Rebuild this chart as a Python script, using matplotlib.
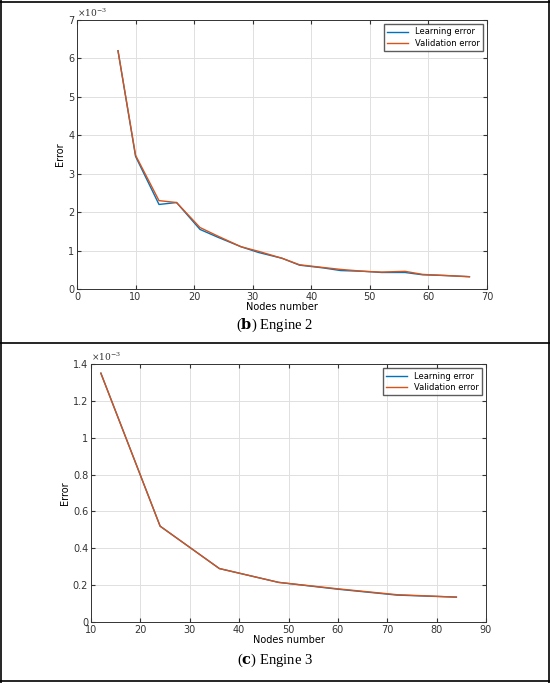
import numpy as np
import matplotlib.pyplot as plt
from matplotlib.lines import Line2D

# Engine 2
nodes_e2 = [7, 10, 14, 17, 21, 24, 28, 31, 35, 38, 42, 45, 49, 52, 56, 59, 63, 67]
learn_e2 = [6.2, 3.45, 2.2, 2.25, 1.55, 1.35, 1.1, 0.95, 0.8, 0.62, 0.55, 0.48, 0.46, 0.43, 0.43, 0.37, 0.35, 0.32]
valid_e2 = [6.2, 3.48, 2.3, 2.25, 1.6, 1.38, 1.1, 0.98, 0.8, 0.63, 0.56, 0.51, 0.46, 0.44, 0.46, 0.38, 0.35, 0.32]

# Engine 3
nodes_e3 = [12, 24, 36, 48, 60, 72, 84]
learn_e3 = [1.35, 0.52, 0.29, 0.215, 0.178, 0.146, 0.135]
valid_e3 = [1.35, 0.52, 0.29, 0.215, 0.180, 0.148, 0.135]

plt.rcParams['mathtext.fontset'] = 'dejavuserif'

W, H = 550, 683
fig = plt.figure(figsize=(W / 100, H / 100), dpi=100)


def style_axes(ax, xlim, xticks, ylim, yticks):
    ax.set_xlim(xlim)
    ax.set_ylim(ylim)
    ax.set_xticks(xticks)
    ax.set_yticks(yticks)
    ax.grid(True, color='#e0e0e0', linewidth=0.7)
    ax.set_axisbelow(True)
    ax.tick_params(labelsize=7, colors='#333333', direction='in', top=True, right=True, length=3, pad=2)
    for s in ax.spines.values():
        s.set_color('#333333')
        s.set_linewidth(0.7)
    ax.set_xlabel('Nodes number', fontsize=7, labelpad=0)
    ax.set_ylabel('Error', fontsize=7, labelpad=2)
    ax.text(0, 1.005, r'$\times10^{-3}$', transform=ax.transAxes, fontsize=6.5, color='#333333', va='bottom')
    ax.legend(fontsize=6, loc='upper right', fancybox=False, edgecolor='#333333',
              handlelength=2.5, borderpad=0.4, labelspacing=0.3)


ax1 = fig.add_axes([77 / W, 1 - 289 / H, 410 / W, 269 / H])
ax1.plot(nodes_e2, learn_e2, color='#0072BD', lw=1, label='Learning error')
ax1.plot(nodes_e2, valid_e2, color='#D95319', lw=1, label='Validation error')
style_axes(ax1, (0, 70), range(0, 71, 10), (0, 7), range(0, 8))

ax2 = fig.add_axes([91 / W, 1 - 622 / H, 395 / W, 258 / H])
ax2.plot(nodes_e3, learn_e3, color='#0072BD', lw=1, label='Learning error')
ax2.plot(nodes_e3, valid_e3, color='#D95319', lw=1, label='Validation error')
style_axes(ax2, (10, 90), range(10, 91, 10), (0, 1.4), np.arange(0, 1.41, 0.2))
ax2.set_yticklabels(['0', '0.2', '0.4', '0.6', '0.8', '1', '1.2', '1.4'])

serif = ['Liberation Serif', 'DejaVu Serif']
fig.text(0.5, 1 - 325 / H, r'($\mathbf{b}$) Engine 2', ha='center', va='center', fontsize=10.5, family=serif)
fig.text(0.5, 1 - 660 / H, r'($\mathbf{c}$) Engine 3', ha='center', va='center', fontsize=10.5, family=serif)

# panel borders
for y in [2 / H, 1 - 343 / H, 1 - 2 / H]:
    fig.add_artist(Line2D([0, 1], [y, y], color='black', lw=1.2))
for x in [1 / W, 1 - 1 / W]:
    fig.add_artist(Line2D([x, x], [0, 1], color='black', lw=1.2))

fig.savefig('out.png', dpi=100)
